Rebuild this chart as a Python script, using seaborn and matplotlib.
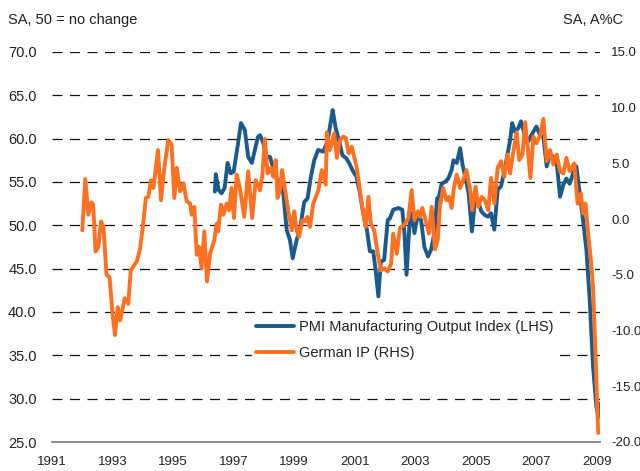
import matplotlib
matplotlib.use("Agg")
import matplotlib.pyplot as plt
import seaborn as sns
import pandas as pd
import numpy as np

# ---- data (decimal year, value) ----
ip_dates = [1992.00, 1992.10, 1992.20, 1992.30, 1992.36, 1992.44, 1992.53, 1992.62, 1992.70, 1992.80,
            1992.90, 1993.00, 1993.08, 1993.17, 1993.25, 1993.40, 1993.52, 1993.60, 1993.80, 1993.90,
            1994.00, 1994.10, 1994.18, 1994.27, 1994.35, 1994.50, 1994.60, 1994.70, 1994.84, 1994.95,
            1995.04, 1995.12, 1995.23, 1995.34, 1995.45, 1995.56, 1995.61, 1995.70, 1995.78, 1995.86,
            1995.94, 1996.03, 1996.12, 1996.22, 1996.36, 1996.44, 1996.49, 1996.58, 1996.66, 1996.77,
            1996.85, 1996.93, 1997.01, 1997.10, 1997.20, 1997.35, 1997.48, 1997.61, 1997.73, 1997.87,
            1997.95, 1998.03, 1998.12, 1998.23, 1998.31, 1998.39, 1998.45, 1998.53, 1998.60, 1998.70,
            1998.80, 1998.92, 1999.00, 1999.08, 1999.16, 1999.27, 1999.36, 1999.43, 1999.52, 1999.63,
            1999.80, 1999.91, 2000.04, 2000.08, 2000.18, 2000.32, 2000.41, 2000.51, 2000.62, 2000.70,
            2000.80, 2000.90, 2001.06, 2001.17, 2001.28, 2001.36, 2001.45, 2001.53, 2001.64, 2001.76,
            2001.86, 2001.97, 2002.09, 2002.20, 2002.27, 2002.39, 2002.49, 2002.64, 2002.77, 2002.88,
            2002.97, 2003.08, 2003.15, 2003.23, 2003.34, 2003.45, 2003.54, 2003.65, 2003.74, 2003.81,
            2003.92, 2004.03, 2004.11, 2004.20, 2004.28, 2004.37, 2004.48, 2004.58, 2004.69, 2004.80,
            2004.88, 2004.99, 2005.08, 2005.19, 2005.30, 2005.41, 2005.50, 2005.61, 2005.72, 2005.83,
            2005.94, 2006.05, 2006.13, 2006.24, 2006.35, 2006.43, 2006.54, 2006.63, 2006.72, 2006.80,
            2006.90, 2007.00, 2007.12, 2007.23, 2007.34, 2007.45, 2007.56, 2007.67, 2007.78, 2007.89,
            2007.99, 2008.10, 2008.25, 2008.36, 2008.47, 2008.54, 2008.62, 2008.71, 2008.80, 2008.87,
            2008.95, 2009.04]
ip_values = [-1.0, 3.6, 0.4, 1.5, 1.3, -2.9, -2.5, -0.2, -0.7, -5.0,
             -5.2, -8.5, -10.4, -7.9, -9.1, -7.1, -7.6, -4.6, -3.8, -2.8,
             -0.7, 1.9, 2.0, 3.5, 2.8, 6.2, 1.7, 4.4, 7.1, 6.7,
             1.9, 4.6, 2.5, 3.2, 1.6, 1.4, 0.4, 1.1, -3.2, -2.5,
             -4.4, -1.1, -5.6, -3.1, -1.9, -0.4, -1.1, 1.3, 0.4, 1.4,
             0.8, 2.8, 0.1, 4.0, 2.9, 0.2, 4.3, 0.1, 3.5, 2.6,
             4.0, 7.2, 4.1, 4.6, 3.8, 5.3, 1.9, 2.6, 4.4, 2.6,
             0.8, -1.0, 0.7, -1.0, -1.6, -0.1, -0.2, 0.2, -0.7, 1.4,
             2.6, 4.4, 3.1, 7.8, 6.2, 7.7, 5.5, 7.1, 7.4, 7.3,
             5.9, 6.5, 4.7, 2.6, 0.5, -0.7, 2.0, -0.4, -1.0, -3.1,
             -4.6, -4.4, -4.7, -4.0, -1.3, -3.1, -0.8, -0.5, 0.1, 2.6,
             -0.1, 0.7, 0.2, 1.0, -0.1, -1.3, 1.1, -2.7, -1.9, 1.1,
             2.8, 1.7, 2.0, 1.0, 2.9, 4.0, 2.8, 3.5, 4.4, 2.8,
             0.8, 2.9, 1.1, 2.0, 1.7, 0.8, 3.7, 1.4, 4.6, 5.2,
             3.8, 5.8, 4.1, 6.1, 7.8, 5.3, 5.8, 8.7, 6.2, 3.7,
             7.4, 6.8, 7.5, 9.0, 5.2, 6.2, 4.9, 5.8, 4.3, 4.1,
             5.5, 4.3, 5.0, 1.4, 2.3, 0.5, 1.4, -1.3, -3.7, -6.1,
             -12.0, -19.2]

pmi_dates = [1996.38, 1996.41, 1996.50, 1996.60, 1996.70, 1996.80, 1996.90, 1997.00, 1997.13, 1997.24,
             1997.37, 1997.48, 1997.60, 1997.70, 1997.80, 1997.87, 1997.98, 1998.09, 1998.20, 1998.31,
             1998.42, 1998.53, 1998.64, 1998.75, 1998.86, 1998.95, 1999.08, 1999.19, 1999.33, 1999.44,
             1999.55, 1999.66, 1999.79, 1999.96, 2000.10, 2000.21, 2000.27, 2000.37, 2000.48, 2000.59,
             2000.73, 2000.84, 2000.95, 2001.06, 2001.17, 2001.28, 2001.40, 2001.50, 2001.61, 2001.69,
             2001.78, 2001.86, 2001.97, 2002.09, 2002.16, 2002.27, 2002.44, 2002.57, 2002.64, 2002.71,
             2002.80, 2002.88, 2002.97, 2003.08, 2003.19, 2003.30, 2003.42, 2003.52, 2003.63, 2003.72,
             2003.78, 2003.87, 2003.98, 2004.09, 2004.20, 2004.26, 2004.37, 2004.48, 2004.56, 2004.65,
             2004.76, 2004.87, 2004.96, 2005.07, 2005.18, 2005.29, 2005.40, 2005.50, 2005.61, 2005.72,
             2005.83, 2005.94, 2006.05, 2006.13, 2006.20, 2006.29, 2006.40, 2006.49, 2006.60, 2006.73,
             2006.80, 2006.90, 2007.00, 2007.12, 2007.23, 2007.34, 2007.45, 2007.56, 2007.67, 2007.78,
             2007.89, 2007.99, 2008.10, 2008.21, 2008.32, 2008.43, 2008.54, 2008.65, 2008.76, 2008.87,
             2008.98, 2009.05, 2009.13]
pmi_values = [53.9, 55.9, 54.1, 53.7, 54.3, 57.2, 56.0, 56.2, 59.1, 61.8,
              61.0, 57.9, 57.2, 58.7, 60.2, 60.4, 59.5, 57.9, 57.9, 56.6,
              55.4, 54.8, 53.7, 49.5, 48.3, 46.2, 48.3, 49.5, 52.7, 53.1,
              55.6, 57.5, 58.7, 58.5, 59.7, 62.0, 63.3, 61.2, 59.8, 58.1,
              57.7, 57.0, 56.2, 55.6, 53.7, 51.4, 49.5, 47.0, 47.0, 44.8,
              41.8, 45.8, 46.0, 50.6, 50.8, 51.8, 52.0, 51.8, 49.1, 44.3,
              49.8, 51.4, 49.1, 51.2, 50.6, 47.5, 46.4, 47.2, 49.1, 53.1,
              53.3, 54.8, 55.0, 55.4, 56.4, 57.5, 57.2, 58.9, 57.0, 55.6,
              53.7, 49.3, 52.5, 52.9, 51.6, 51.2, 51.0, 51.4, 49.5, 54.1,
              54.5, 56.2, 58.3, 59.8, 61.8, 60.8, 61.2, 62.0, 60.6, 59.7,
              60.2, 60.8, 61.4, 60.4, 60.2, 56.8, 58.3, 57.9, 57.2, 53.3,
              54.7, 55.4, 54.8, 56.0, 56.8, 53.7, 50.6, 47.2, 41.4, 33.7,
              29.1, 27.9, 29.5]

left_ticks = [25, 30, 35, 40, 45, 50, 55, 60, 65, 70]
right_ticks = [-20, -15, -10, -5, 0, 5, 10, 15]
year_ticks = list(range(1991, 2010))
year_labels = [str(y) if y % 2 == 1 else "" for y in year_ticks]

BLUE = "#1c5a8c"
ORANGE = "#ff7021"

sns.set_style("white")
plt.rcParams["font.family"] = ["Liberation Sans", "DejaVu Sans"]

pmi = pd.DataFrame({"date": pmi_dates, "value": pmi_values})
ip = pd.DataFrame({"date": ip_dates, "value": ip_values})

fig = plt.figure(figsize=(6.4, 4.71), dpi=100)
ax = fig.add_axes([52 / 640, 1 - 442 / 471, 548 / 640, 390 / 471])
ax2 = ax.twinx()

sns.lineplot(data=pmi, x="date", y="value", ax=ax, color=BLUE, linewidth=2.8,
             label="PMI Manufacturing Output Index (LHS)", legend=False)
sns.lineplot(data=ip, x="date", y="value", ax=ax2, color=ORANGE, linewidth=2.8,
             label="German IP (RHS)", legend=False)

ax.set_xlim(1991, 2009.1)
ax.set_ylim(25, 70)
ax2.set_ylim(-20, 15)

ax.set_yticks(left_ticks)
ax.set_yticklabels([f"{v:.1f}" for v in left_ticks], fontsize=10.5, color="#222222")
ax2.set_yticks(right_ticks)
ax2.set_yticklabels([f"{v:.1f}" for v in right_ticks], fontsize=9.5, color="#222222")
ax.set_xticks(year_ticks)
ax.set_xticklabels(year_labels, fontsize=9.5, color="#222222")

ax.tick_params(axis="y", length=0, pad=11)
ax2.tick_params(axis="y", length=0, pad=8)
ax.tick_params(axis="x", length=5, width=1, color="#777777", pad=5, direction="out")

for a in (ax, ax2):
    for s in ("top", "left", "right", "bottom"):
        a.spines[s].set_visible(False)
ax.spines["bottom"].set_visible(True)
ax.spines["bottom"].set_color("#777777")
ax.spines["bottom"].set_linewidth(1.2)

for v in left_ticks[1:]:
    ax.axhline(v, color="#111111", linewidth=0.9, dashes=(8, 6), zorder=0)

ax.set_xlabel("")
ax.set_ylabel("")
ax2.set_xlabel("")
ax2.set_ylabel("")

fig.text(8 / 640, 1 - 20 / 471, "SA, 50 = no change", fontsize=10.5, color="#222222",
         ha="left", va="center")
fig.text(623 / 640, 1 - 20 / 471, "SA, A%C", fontsize=10.5, color="#222222",
         ha="right", va="center")

handles = ax.get_lines()[:1] + ax2.get_lines()[:1]
labels = ["PMI Manufacturing Output Index (LHS)", "German IP (RHS)"]
leg = ax2.legend(handles, labels, loc="upper left", bbox_to_anchor=(0.365, 0.325),
                 frameon=True, facecolor="white", edgecolor="white", framealpha=1,
                 fontsize=10.5, handlelength=2.6, handletextpad=0.3, labelspacing=0.85,
                 borderpad=0.3, borderaxespad=0)
for t in leg.get_texts():
    t.set_color("#222222")

fig.savefig("out.png", dpi=100)
